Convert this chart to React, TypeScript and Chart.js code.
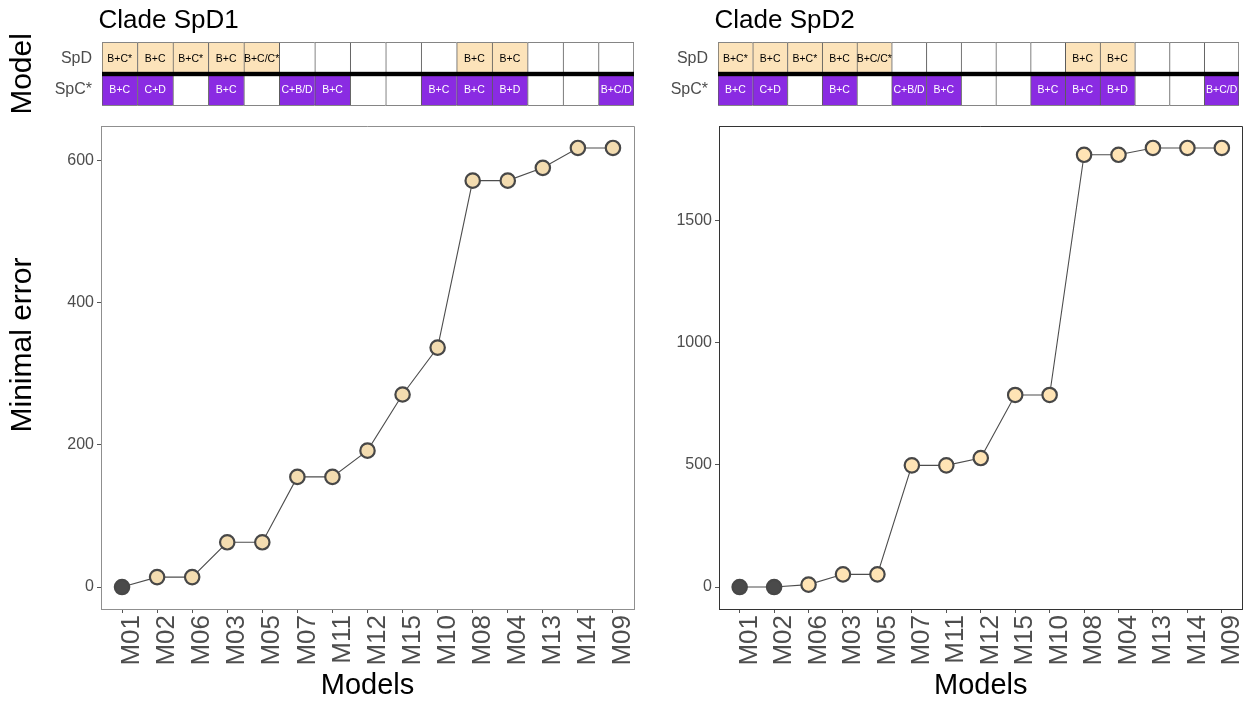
import React, { useEffect, useRef } from 'react';
import { Chart, registerables } from 'chart.js';

Chart.register(...registerables);

const FONT = '"Liberation Sans", Arial, Helvetica, sans-serif';
Chart.defaults.font.family = FONT;

// Models in the order they are ranked along the x axis (same for both clades)
const modelOrder = ['M01', 'M02', 'M06', 'M03', 'M05', 'M07', 'M11', 'M12', 'M15', 'M10', 'M08', 'M04', 'M13', 'M14', 'M09'];

// Minimal error reached by each model
const errorSpD1 = [0, 14, 14, 63, 63, 155, 155, 192, 271, 337, 572, 572, 590, 618, 618];
const errorSpD2 = [0, 0, 10, 52, 52, 498, 498, 528, 786, 786, 1769, 1769, 1797, 1797, 1797];

// Best-supported models, drawn in dark grey
const bestSpD1 = ['M01'];
const bestSpD2 = ['M01', 'M02'];

// Components of each model for the two populations
const tableRows = ['SpD', 'SpC*'];
const spdComponents = ['B+C*', 'B+C', 'B+C*', 'B+C', 'B+C/C*', '', '', '', '', '', 'B+C', 'B+C', '', '', ''];
const spcComponents = ['B+C', 'C+D', '', 'B+C', '', 'C+B/D', 'B+C', '', '', 'B+C', 'B+C', 'B+D', '', '', 'B+C/D'];

// y-axis tick values
const yTicksSpD1 = [0, 200, 400, 600];
const yTicksSpD2 = [0, 500, 1000, 1500];

const SPD_FILL = '#FCE3BA';
const SPC_FILL = '#8A2BE2';
const CELL_BORDER = '#5c5c5c';
const LINE = '#4d4d4d';
const POINT_EDGE = '#474747';
const BEST_FILL = '#4a4a4a';
const TEXT_GREY = '#4d4d4d';

type PanelSpec = {
  title: string;
  errors: number[];
  best: string[];
  yTicks: number[];
  pointFill: string;
  frameColor: string;
  left: number;
  width: number;
  plotAxisWidth: number;
  plotPadRight: number;
  tableAxisWidth: number;
  tablePadRight: number;
  yTitle?: string;
  rowTitle?: string;
};

const panels: PanelSpec[] = [
  {
    title: 'Clade SpD1',
    errors: errorSpD1,
    best: bestSpD1,
    yTicks: yTicksSpD1,
    pointFill: '#F3DCB0',
    frameColor: '#8f8f8f',
    left: 0,
    width: 640,
    plotAxisWidth: 101,
    plotPadRight: 6,
    tableAxisWidth: 102,
    tablePadRight: 6,
    yTitle: 'Minimal error',
    rowTitle: 'Model',
  },
  {
    title: 'Clade SpD2',
    errors: errorSpD2,
    best: bestSpD2,
    yTicks: yTicksSpD2,
    pointFill: '#FFE4B5',
    frameColor: '#333333',
    left: 640,
    width: 604,
    plotAxisWidth: 79,
    plotPadRight: 1.5,
    tableAxisWidth: 78,
    tablePadRight: 5,
  },
];

// Panel frame (top and right edges; left/bottom come from the axes)
const framePlugin = (color: string) => ({
  id: 'panelFrame',
  beforeDatasetsDraw(chart: any) {
    const { ctx, chartArea: a } = chart;
    const al = (v: number) => Math.round(v - 0.5) + 0.5;
    ctx.save();
    ctx.strokeStyle = color;
    ctx.lineWidth = 1;
    ctx.beginPath();
    ctx.moveTo(a.left, al(a.top));
    ctx.lineTo(al(a.right), al(a.top));
    ctx.lineTo(al(a.right), a.bottom);
    ctx.stroke();
    ctx.restore();
  },
});

// Rotated y title placed beside the panel
const sideTitlePlugin = (text?: string) => ({
  id: 'sideTitle',
  afterDraw(chart: any) {
    if (!text) return;
    const { ctx, chartArea: a } = chart;
    ctx.save();
    ctx.translate(23, (a.top + a.bottom) / 2 - 22.5);
    ctx.rotate(-Math.PI / 2);
    ctx.font = `30px ${FONT}`;
    ctx.fillStyle = '#000';
    ctx.textAlign = 'center';
    ctx.textBaseline = 'middle';
    ctx.fillText(text, 0, 0);
    ctx.restore();
  },
});

// Panel heading above the model table
const panelTitlePlugin = (text: string) => ({
  id: 'panelTitle',
  afterDraw(chart: any) {
    const { ctx, chartArea: a } = chart;
    ctx.save();
    ctx.font = `26px ${FONT}`;
    ctx.fillStyle = '#000';
    ctx.textAlign = 'left';
    ctx.textBaseline = 'middle';
    ctx.fillText(text, a.left - 3.5, 20.5);
    ctx.restore();
  },
});

// Component labels inside the table cells, plus the bar between rows
const cellTextPlugin = (texts: string[][], colors: string[]) => ({
  id: 'cellText',
  afterDatasetsDraw(chart: any) {
    const { ctx, chartArea: a } = chart;
    ctx.save();
    const ys = chart.scales.y;
    const yMid = ys.getPixelForValue(0.5);
    ctx.fillStyle = '#000';
    ctx.fillRect(a.left, yMid - 2.2, a.right - a.left, 4.4);
    ctx.font = `10.5px ${FONT}`;
    ctx.textAlign = 'center';
    ctx.textBaseline = 'middle';
    chart.data.datasets.forEach((_ds: any, di: number) => {
      const meta = chart.getDatasetMeta(di);
      ctx.fillStyle = colors[di];
      meta.data.forEach((el: any, i: number) => {
        const t = texts[di][i];
        if (!t) return;
        const { x, y, base } = el.getProps(['x', 'y', 'base'], true);
        ctx.fillText(t, x, (y + base) / 2 + (di === 0 ? 1 : 0));
      });
    });
    ctx.restore();
  },
});

function makeTableConfig(p: PanelSpec): any {
  const n = modelOrder.length;
  const cellBorder = (c: any) => ({ top: 1, left: 1, bottom: 1, right: c.dataIndex === n - 1 ? 1 : 0 });
  const common = {
    borderColor: CELL_BORDER,
    borderWidth: cellBorder,
    borderSkipped: false,
    grouped: false,
    barPercentage: 1,
    categoryPercentage: 1,
  };
  return {
    type: 'bar',
    data: {
      labels: modelOrder,
      datasets: [
        {
          label: tableRows[0],
          data: spdComponents.map(() => [0.5, 1.5]),
          backgroundColor: spdComponents.map((t) => (t ? SPD_FILL : '#ffffff')),
          ...common,
        },
        {
          label: tableRows[1],
          data: spcComponents.map(() => [-0.5, 0.5]),
          backgroundColor: spcComponents.map((t) => (t ? SPC_FILL : '#ffffff')),
          ...common,
        },
      ],
    },
    options: {
      animation: false,
      responsive: false,
      events: [],
      layout: { autoPadding: false, padding: { top: 42.3, right: p.tablePadRight, bottom: 6.3, left: 0 } },
      plugins: { legend: { display: false }, tooltip: { enabled: false }, title: { display: false } },
      scales: {
        x: { type: 'category', display: false, offset: true, grid: { display: false } },
        y: {
          type: 'linear',
          min: -0.5,
          max: 1.5,
          afterBuildTicks: (s: any) => {
            s.ticks = [{ value: 0 }, { value: 1 }];
          },
          ticks: {
            callback: (v: any) => tableRows[1 - Number(v)],
            color: TEXT_GREY,
            font: { size: 16 },
            padding: 10,
          },
          grid: { display: false, drawTicks: false },
          border: { display: false },
          title: {
            display: !!p.rowTitle,
            text: p.rowTitle || '',
            color: '#000',
            font: { size: 30 },
            padding: { top: 5, bottom: 0 },
          },
          afterFit: (s: any) => {
            s.width = p.tableAxisWidth;
            s.paddingTop = 0;
            s.paddingBottom = 0;
          },
        },
      },
    },
    plugins: [cellTextPlugin([spdComponents, spcComponents], ['#000000', '#ffffff']), panelTitlePlugin(p.title)],
  };
}

function makePlotConfig(p: PanelSpec): any {
  const lo = Math.min(...p.errors);
  const hi = Math.max(...p.errors);
  const pad = (hi - lo) * 0.05;
  return {
    type: 'scatter',
    data: {
      datasets: [
        {
          data: p.errors.map((e, i) => ({ x: i, y: e })),
          showLine: true,
          borderColor: LINE,
          borderWidth: 1.1,
          pointRadius: 7.2,
          pointHoverRadius: 7.2,
          pointBorderWidth: 2.2,
          pointBorderColor: POINT_EDGE,
          pointBackgroundColor: modelOrder.map((m) => (p.best.includes(m) ? BEST_FILL : p.pointFill)),
          tension: 0,
        },
      ],
    },
    options: {
      animation: false,
      responsive: false,
      events: [],
      layout: { autoPadding: false, padding: { top: 14, right: p.plotPadRight, bottom: 0, left: 0 } },
      plugins: { legend: { display: false }, tooltip: { enabled: false }, title: { display: false } },
      scales: {
        x: {
          type: 'linear',
          min: -0.6,
          max: modelOrder.length - 0.4,
          afterBuildTicks: (s: any) => {
            s.ticks = modelOrder.map((_, i) => ({ value: i }));
          },
          ticks: {
            callback: (v: any) => modelOrder[Number(v)],
            autoSkip: false,
            minRotation: 90,
            maxRotation: 90,
            color: TEXT_GREY,
            font: { size: 26 },
            padding: 2,
            labelOffset: 10,
          },
          grid: { drawOnChartArea: false, drawTicks: true, tickLength: 4, color: '#555555' },
          border: { display: true, color: p.frameColor, width: 1 },
          title: {
            display: true,
            text: 'Models',
            color: '#000',
            font: { size: 29, lineHeight: 1 },
            padding: { top: 0, bottom: 1.5 },
          },
          afterFit: (s: any) => {
            s.height = 93;
            s.paddingLeft = 0;
            s.paddingRight = 0;
          },
        },
        y: {
          type: 'linear',
          min: lo - pad,
          max: hi + pad,
          afterBuildTicks: (s: any) => {
            s.ticks = p.yTicks.map((v) => ({ value: v }));
          },
          ticks: {
            callback: (v: any) => String(v),
            color: TEXT_GREY,
            font: { size: 16 },
            padding: 3,
          },
          grid: { drawOnChartArea: false, drawTicks: true, tickLength: 4, color: '#555555' },
          border: { display: true, color: p.frameColor, width: 1 },
          afterFit: (s: any) => {
            s.width = p.plotAxisWidth;
          },
        },
      },
    },
    plugins: [framePlugin(p.frameColor), sideTitlePlugin(p.yTitle)],
  };
}

function ChartCanvas(props: { make: () => any; left: number; top: number; width: number; height: number }) {
  const ref = useRef<HTMLCanvasElement>(null);
  useEffect(() => {
    const chart = new Chart(ref.current as HTMLCanvasElement, props.make());
    return () => chart.destroy();
  }, []);
  return (
    <canvas
      ref={ref}
      width={props.width}
      height={props.height}
      style={{ position: 'absolute', left: props.left, top: props.top, width: props.width, height: props.height }}
    />
  );
}

export default function App() {
  return (
    <div
      style={{
        position: 'absolute',
        left: 0,
        top: 0,
        width: 1244,
        height: 702,
        background: '#ffffff',
        overflow: 'hidden',
      }}
    >
      {panels.map((p) => (
        <React.Fragment key={p.title}>
          <ChartCanvas make={() => makeTableConfig(p)} left={p.left} top={0} width={p.width} height={112} />
          <ChartCanvas make={() => makePlotConfig(p)} left={p.left} top={112} width={p.width} height={590} />
        </React.Fragment>
      ))}
    </div>
  );
}
